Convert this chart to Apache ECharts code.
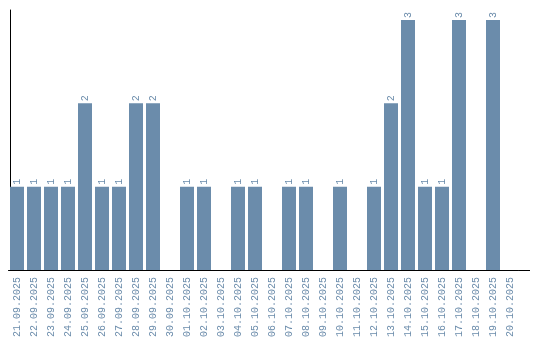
<!DOCTYPE html>
<html><head><meta charset="utf-8">
<script src="https://cdn.jsdelivr.net/npm/echarts@6/dist/echarts.min.js"></script>
<style>html,body{margin:0;padding:0;background:#fff}#c{width:540px;height:340px}</style>
</head><body><div id="c"></div>
<script>
const categories = ["21.09.2025","22.09.2025","23.09.2025","24.09.2025","25.09.2025","26.09.2025","27.09.2025","28.09.2025","29.09.2025","30.09.2025","01.10.2025","02.10.2025","03.10.2025","04.10.2025","05.10.2025","06.10.2025","07.10.2025","08.10.2025","09.10.2025","10.10.2025","11.10.2025","12.10.2025","13.10.2025","14.10.2025","15.10.2025","16.10.2025","17.10.2025","18.10.2025","19.10.2025","20.10.2025"];
const values = [1,1,1,1,2,1,1,2,2,0,1,1,0,1,1,0,1,1,0,1,0,1,2,3,1,1,3,0,3,0];

const chart = echarts.init(document.getElementById('c'), null, {renderer:'canvas'});
const FONT = 'Liberation Mono';
const COLOR = '#6b8cab';
chart.setOption({
  animation: false,
  grid: {left: 8.5, top: 10, width: 510, height: 260, containLabel: false},
  xAxis: {
    type: 'category', data: categories,
    axisLine: {show: true, lineStyle: {color: '#000', width: 1}},
    axisTick: {show: false},
    axisLabel: {rotate: 90, interval: 0, margin: 7, color: COLOR, fontFamily: FONT, fontSize: 10}
  },
  yAxis: {
    type: 'value', min: 0, max: 3.12,
    offset: -1.5,
    axisLine: {show: true, lineStyle: {color: '#000', width: 1}},
    axisTick: {show: false}, axisLabel: {show: false}, splitLine: {show: false}
  },
  graphic: [{type: 'line', shape: {x1: 518.5, y1: 270.5, x2: 530, y2: 270.5}, style: {stroke: '#000', lineWidth: 1}}],
  series: [{
    type: 'bar', data: values.map(v => v === 0 ? {value: v, label: {show: false}} : v),
    barWidth: 14, itemStyle: {color: COLOR},
    label: {show: true, position: 'top', rotate: 90, align: 'left', verticalAlign: 'middle', distance: 2,
      color: COLOR, fontFamily: FONT, fontSize: 10}
  }]
});
</script></body></html>
